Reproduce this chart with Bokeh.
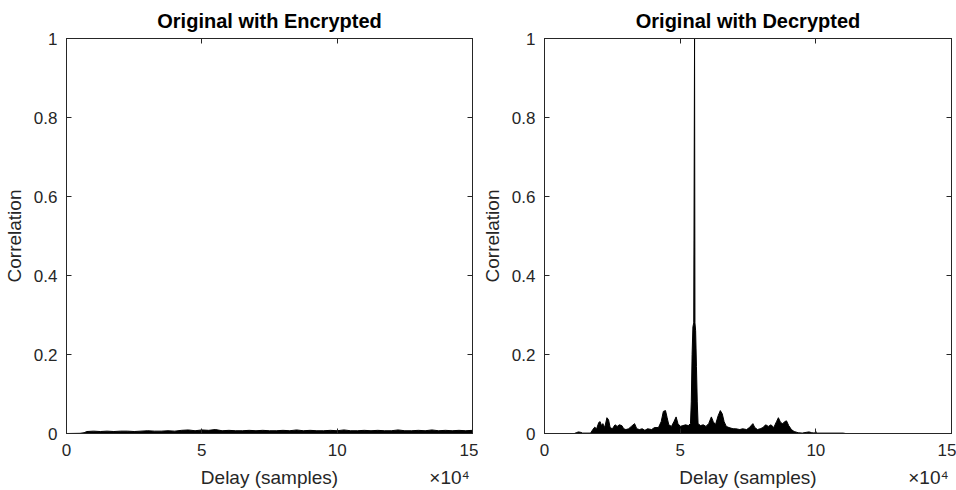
from bokeh.plotting import figure
from bokeh.layouts import row
from bokeh.models import LinearAxis, FixedTicker, Range1d, ColumnDataSource
from bokeh.embed import file_html
from bokeh.resources import INLINE

# ---- data (delay in units of 1e4 samples, correlation magnitude) ----
lag_enc_head = [0.0, 0.5, 0.65]
corr_enc_head = [0.0, 0.0005, 0.002]
lag_enc_step = 0.25
corr_enc_tail = [
    0.005, 0.006, 0.005, 0.006, 0.005, 0.006, 0.006, 0.005, 0.006, 0.007,
    0.006, 0.006, 0.007, 0.006, 0.008, 0.009, 0.007, 0.009, 0.008, 0.010,
    0.007, 0.008, 0.007, 0.007, 0.008, 0.007, 0.008, 0.007, 0.007, 0.008,
    0.007, 0.009, 0.007, 0.008, 0.007, 0.007, 0.008, 0.007, 0.009, 0.007,
    0.007, 0.008, 0.007, 0.008, 0.007, 0.007, 0.009, 0.007, 0.007, 0.008,
    0.007, 0.009, 0.007, 0.008, 0.007, 0.008, 0.007, 0.008,
]
lag_enc = lag_enc_head + [0.75 + lag_enc_step * i for i in range(len(corr_enc_tail))]
corr_enc = corr_enc_head + corr_enc_tail

lag_dec = [0.0, 1.10, 1.17, 1.25, 1.33, 1.40, 1.70, 1.78, 1.85, 1.92,
           2.00, 2.05, 2.10, 2.15, 2.22, 2.30, 2.36, 2.42, 2.50, 2.60,
           2.68, 2.76, 2.85, 2.92, 3.00, 3.10, 3.20, 3.32, 3.40, 3.50,
           3.60, 3.70, 3.80, 3.95, 4.05, 4.20, 4.30, 4.38, 4.46, 4.52,
           4.58, 4.68, 4.77, 4.85, 4.92, 5.00, 5.10, 5.20, 5.30, 5.38,
           5.41, 5.44, 5.47, 5.50, 5.53, 5.545, 5.57, 5.60, 5.63, 5.66,
           5.75, 5.85, 5.95, 6.05, 6.15, 6.22, 6.30, 6.40, 6.48, 6.55,
           6.62, 6.70, 6.80, 6.95, 7.05, 7.20, 7.30, 7.45, 7.55, 7.68,
           7.75, 7.85, 7.95, 8.05, 8.15, 8.25, 8.35, 8.45, 8.55, 8.62,
           8.70, 8.78, 8.85, 8.92, 9.00, 9.10, 9.20, 9.35, 9.50, 9.65,
           9.75, 9.85, 9.95, 10.0, 10.02, 11.0, 11.1, 15.0]
corr_dec = [0.0, 0.0, 0.002, 0.004, 0.003, 0.001, 0.001, 0.010, 0.016, 0.012,
            0.028, 0.030, 0.020, 0.025, 0.015, 0.040, 0.035, 0.015, 0.012, 0.022,
            0.018, 0.022, 0.020, 0.012, 0.010, 0.012, 0.018, 0.025, 0.012, 0.010,
            0.012, 0.008, 0.012, 0.010, 0.015, 0.015, 0.030, 0.056, 0.058, 0.040,
            0.022, 0.018, 0.030, 0.042, 0.025, 0.018, 0.020, 0.022, 0.020, 0.025,
            0.080, 0.200, 0.270, 0.280, 1.000, 0.280, 0.260, 0.170, 0.080, 0.025,
            0.020, 0.022, 0.018, 0.025, 0.042, 0.030, 0.022, 0.045, 0.058, 0.050,
            0.030, 0.018, 0.015, 0.012, 0.012, 0.010, 0.012, 0.010, 0.015, 0.025,
            0.015, 0.010, 0.012, 0.015, 0.022, 0.018, 0.022, 0.015, 0.030, 0.040,
            0.028, 0.025, 0.030, 0.032, 0.020, 0.010, 0.005, 0.002, 0.001, 0.003,
            0.004, 0.002, 0.001, 0.005, 0.001, 0.001, 0.0, 0.0]

x_ticks = [0, 5, 10, 15]
y_ticks = [0, 0.2, 0.4, 0.6, 0.8, 1]
titles = ["Original with Encrypted", "Original with Decrypted"]
x_label = "Delay (samples)"
y_label = "Correlation"
exp_label = "\u00d710\u2074"

FONT = "Liberation Sans"
AX = "#262626"


def make_panel(title, lag, corr):
    p = figure(width=478, height=490, output_backend="svg", toolbar_location=None,
               x_range=Range1d(0, 15), y_range=Range1d(0, 1),
               min_border_left=65, min_border_right=6, min_border_top=36, min_border_bottom=56,
               y_axis_label=y_label)
    p.title.text = title
    p.title.align = "center"
    p.title.text_font = FONT
    p.title.text_font_size = "20px"
    p.title.text_font_style = "bold"
    p.title.text_color = "#000000"
    p.title.standoff = 14
    p.grid.visible = False
    p.outline_line_color = AX
    p.background_fill_color = "white"
    p.border_fill_color = "white"

    src = ColumnDataSource(dict(x=lag, y=corr, z=[0] * len(lag)))
    p.varea(x="x", y1="z", y2="y", source=src, fill_color="black")
    p.line(x="x", y="y", source=src, line_color="black", line_width=1)

    for ax in (p.xaxis[0], p.yaxis[0]):
        ax.major_tick_in = 5
        ax.major_tick_out = 0
        ax.minor_tick_line_color = None
        ax.axis_line_color = AX
        ax.major_tick_line_color = AX
        ax.major_label_text_font = FONT
        ax.major_label_text_font_size = "17px"
        ax.major_label_text_color = AX
        ax.axis_label_text_font = FONT
        ax.axis_label_text_font_size = "19px"
        ax.axis_label_text_font_style = "normal"
        ax.axis_label_text_color = AX
    p.xaxis[0].ticker = FixedTicker(ticks=x_ticks)
    p.yaxis[0].ticker = FixedTicker(ticks=y_ticks)
    p.yaxis[0].major_label_overrides = {0: "0", 1: "1"}
    p.xaxis[0].major_label_standoff = 10
    p.yaxis[0].major_label_standoff = 9
    p.yaxis[0].axis_label_standoff = 6

    # second row under the x axis: axis title and the x10^4 exponent
    lab_pos = {7.5: x_label, 14.15: exp_label}
    lab_axis = LinearAxis(ticker=FixedTicker(ticks=list(lab_pos.keys())),
                          major_label_overrides=lab_pos,
                          major_label_text_font=FONT, major_label_text_font_size="19px",
                          major_label_text_color=AX, major_label_standoff=8,
                          major_tick_in=0, major_tick_out=0,
                          major_tick_line_color=None, minor_tick_line_color=None,
                          axis_line_color=None)
    p.add_layout(lab_axis, "below")

    # mirrored tick marks on top and right (MATLAB box)
    blank_x = {t: "" for t in x_ticks}
    blank_y = {t: "" for t in y_ticks}
    top = LinearAxis(ticker=FixedTicker(ticks=x_ticks), major_label_overrides=blank_x,
                     major_label_text_font_size="1px",
                     major_label_standoff=0, major_tick_in=5, major_tick_out=0,
                     minor_tick_line_color=None, axis_line_color=AX, major_tick_line_color=AX)
    right = LinearAxis(ticker=FixedTicker(ticks=y_ticks), major_label_overrides=blank_y,
                       major_label_text_font_size="1px",
                       major_label_standoff=0, major_tick_in=5, major_tick_out=0,
                       minor_tick_line_color=None, axis_line_color=AX, major_tick_line_color=AX)
    p.add_layout(top, "above")
    p.add_layout(right, "right")
    return p


p1 = make_panel(titles[0], lag_enc, corr_enc)
p2 = make_panel(titles[1], lag_dec, corr_dec)
p2.min_border_right = 5

layout = row(p1, p2)
open("out.html", "w").write(file_html(layout, INLINE))
